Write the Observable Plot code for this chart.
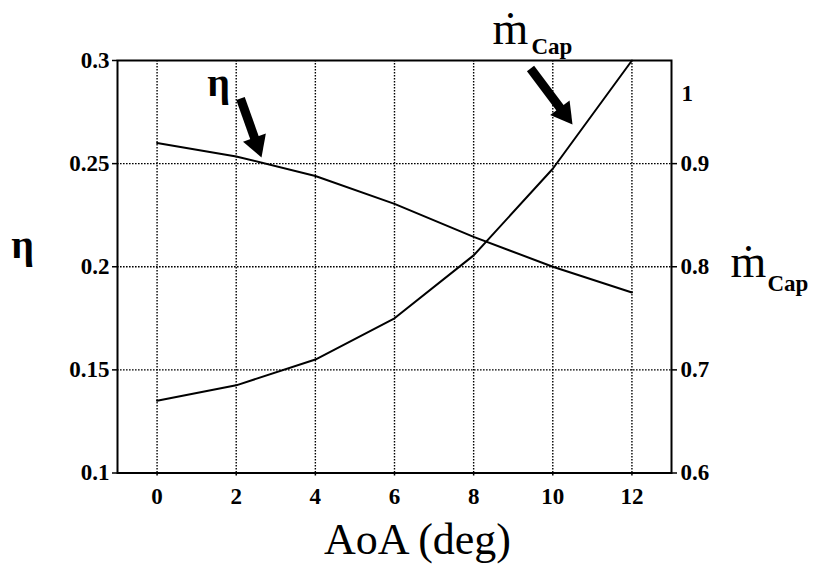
<!DOCTYPE html>
<html>
<head>
<meta charset="utf-8">
<script src="https://cdn.jsdelivr.net/npm/d3@7"></script>
<script src="https://cdn.jsdelivr.net/npm/@observablehq/plot@0.6"></script>
<style>
  html, body { margin: 0; padding: 0; background: white; }
  svg { display: block; }
</style>
</head>
<body>
<div id="chart"></div>
<script>
// ---- data ----
const aoa = [0, 2, 4, 6, 8, 10, 12];
const eta = [0.260, 0.2535, 0.244, 0.2305, 0.2145, 0.200, 0.1875];
const mCap = [0.670, 0.685, 0.710, 0.750, 0.811, 0.895, 1.000];

const xTicks = [0, 2, 4, 6, 8, 10, 12];
const etaTicks = [0.1, 0.15, 0.2, 0.25, 0.3];
const etaGrid = [0.15, 0.2, 0.25];
const mTicks = [0.6, 0.7, 0.8, 0.9];
const mTopLabel = [1];

// annotation arrows (tail -> head, in data coordinates of the η scale)
const arrowTailX = [2.108, 9.437];
const arrowTailY = [0.2816, 0.2961];
const arrowHeadX = [2.520, 10.286];
const arrowHeadY = [0.2594, 0.2744];
const arrowAngle = [160.4, 143.1];

// map ṁ onto the η scale (0.6 -> 0.1, 1.0 -> 0.3)
const toEta = m => 0.1 + (m - 0.6) / 2;
const toM = v => 0.6 + (v - 0.1) * 2;

const etaData = aoa.map((a, i) => ({x: a, y: eta[i]}));
const mData = aoa.map((a, i) => ({x: a, y: toEta(mCap[i])}));
const arrows = arrowTailX.map((_, i) => ({
  x1: arrowTailX[i], y1: arrowTailY[i], x2: arrowHeadX[i], y2: arrowHeadY[i], r: arrowAngle[i]
}));

const serif = "'Liberation Serif', 'Times New Roman', serif";
const dotted = {stroke: "black", strokeWidth: 1.4, strokeDasharray: "1.6,1.4"};
const lbl = {frameAnchor: "top-left", lineAnchor: "middle"};

const chart = Plot.plot({
  width: 814,
  height: 569,
  marginTop: 60,
  marginBottom: 96.5,
  marginLeft: 117,
  marginRight: 143,
  x: {domain: [-1, 13]},
  y: {domain: [0.1, 0.3]},
  style: {fontFamily: serif, background: "white", color: "black"},
  marks: [
    Plot.ruleX(xTicks, dotted),
    Plot.ruleY(etaGrid, dotted),
    Plot.axisX(xTicks, {tickSize: 3, tickPadding: 12, fontSize: 23, fontWeight: "bold", label: null, tickFormat: d => String(d), strokeWidth: 1.5}),
    Plot.axisY(etaTicks, {anchor: "left", tickSize: 5, tickPadding: 3, fontSize: 23, fontWeight: "bold", label: null, tickFormat: d => String(+d.toFixed(2)), strokeWidth: 1.5}),
    Plot.axisY(mTicks.map(toEta), {anchor: "right", tickSize: 5, tickPadding: 4, fontSize: 23, fontWeight: "bold", label: null, tickFormat: v => String(+toM(v).toFixed(1)), strokeWidth: 1.5}),
    Plot.text(mTopLabel, {x: () => 13, y: d => toEta(d), text: d => String(d), dx: 10, dy: 33, textAnchor: "start", fontSize: 23, fontWeight: "bold"}),
    Plot.frame({stroke: "black", strokeWidth: 2}),
    Plot.line(etaData, {x: "x", y: "y", stroke: "black", strokeWidth: 2}),
    Plot.line(mData, {x: "x", y: "y", stroke: "black", strokeWidth: 2}),
    // arrows
    Plot.link(arrows, {x1: "x1", y1: "y1", x2: "x2", y2: "y2", stroke: "black", strokeWidth: 9}),
    Plot.dot(arrows, {x: "x2", y: "y2", symbol: "triangle", r: 9, fill: "black", stroke: "none", rotate: "r"}),
    // titles and labels
    Plot.text(["η"], {...lbl, dx: -95, dy: 185, fontSize: 40, fontWeight: "bold", textAnchor: "middle"}),
    Plot.text(["η"], {...lbl, dx: 101, dy: 23, fontSize: 40, fontWeight: "bold", textAnchor: "middle"}),
    Plot.text(["ṁ"], {...lbl, dx: 393, dy: -31, fontSize: 46, textAnchor: "middle"}),
    Plot.text(["Cap"], {...lbl, dx: 414, dy: -14, fontSize: 23, fontWeight: "bold", textAnchor: "start"}),
    Plot.text(["ṁ"], {...lbl, dx: 631, dy: 202, fontSize: 46, textAnchor: "middle"}),
    Plot.text(["Cap"], {...lbl, dx: 650, dy: 223, fontSize: 23, fontWeight: "bold", textAnchor: "start"}),
    Plot.text(["AoA (deg)"], {...lbl, dx: 300, dy: 479, fontSize: 44, textAnchor: "middle"})
  ]
});
document.getElementById("chart").appendChild(chart);
</script>
</body>
</html>
